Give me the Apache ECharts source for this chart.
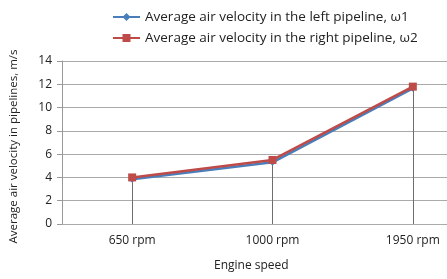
<!DOCTYPE html>
<html>
<head>
<meta charset="utf-8">
<script src="https://cdn.jsdelivr.net/npm/echarts@6/dist/echarts.min.js"></script>
<style>
  html, body { margin: 0; padding: 0; background: #fff; overflow: hidden; }
  #chart { width: 483px; height: 279px; }
</style>
</head>
<body>
<div id="chart"></div>
<script>
const categories = ['650 rpm', '1000 rpm', '1950 rpm'];
const leftPipe = [3.85, 5.3, 11.65];
const rightPipe = [4.0, 5.5, 11.8];
const yTicks = [0, 2, 4, 6, 8, 10, 12, 14];

const font = '"Open Sans", "Liberation Sans", sans-serif';
const myChart = echarts.init(document.getElementById('chart'));

// drop lines from the higher point down to the axis
const dropLines = categories.map((c, i) => [
  { coord: [c, 0] },
  { coord: [c, Math.max(leftPipe[i], rightPipe[i])] }
]);

let option = {
  animation: false,
  textStyle: { fontFamily: font },
  // plot runs past the right edge of the 447px window, as in the cropped original
  grid: { left: 60, right: 0, top: 61, bottom: 55 },
  legend: {
    orient: 'vertical',
    left: 107,
    top: 5,
    itemGap: 7,
    itemWidth: 27,
    itemHeight: 10,
    textStyle: { fontSize: 13.5, color: '#222', fontFamily: font },
    data: ['Average air velocity in the left pipeline, ω1', 'Average air velocity in the right pipeline, ω2']
  },
  xAxis: {
    type: 'category',
    data: categories,
    boundaryGap: true,
    axisLine: { show: false },
    axisTick: { show: false },
    axisLabel: { fontSize: 12, color: '#222', margin: 11 }
  },
  yAxis: {
    type: 'value',
    min: yTicks[0],
    max: yTicks[yTicks.length - 1],
    interval: 2,
    name: 'Average air velocity in pipelines, m/s',
    nameLocation: 'middle',
    nameGap: 42,
    nameTextStyle: { fontSize: 11.5, color: '#222', padding: [0, 0, 0, -8] },
    axisLine: { show: true, lineStyle: { color: '#999', width: 1 } },
    axisTick: { show: true, length: 5, lineStyle: { color: '#999' } },
    axisLabel: { fontSize: 12, color: '#222', margin: 10 },
    splitLine: { lineStyle: { color: '#aaa', width: 1 } }
  },
  graphic: [{
    type: 'text',
    left: 214,
    top: 260,
    style: { text: 'Engine speed', fontSize: 12, fill: '#222', fontFamily: font }
  }],
  series: [
    {
      name: 'Average air velocity in the left pipeline, ω1',
      type: 'line',
      data: leftPipe,
      color: '#4a7ebb',
      symbol: 'diamond',
      symbolSize: 7,
      lineStyle: { width: 2.5 },
      z: 3,
      markLine: {
        silent: true,
        symbol: 'none',
        label: { show: false },
        lineStyle: { color: '#6e6e6e', width: 1, type: 'solid' },
        data: dropLines,
        z: 1
      }
    },
    {
      name: 'Average air velocity in the right pipeline, ω2',
      type: 'line',
      data: rightPipe,
      color: '#be4b48',
      symbol: 'rect',
      symbolSize: 8,
      lineStyle: { width: 2.5 },
      z: 4
    }
  ]
};
myChart.setOption(option);
</script>
</body>
</html>
